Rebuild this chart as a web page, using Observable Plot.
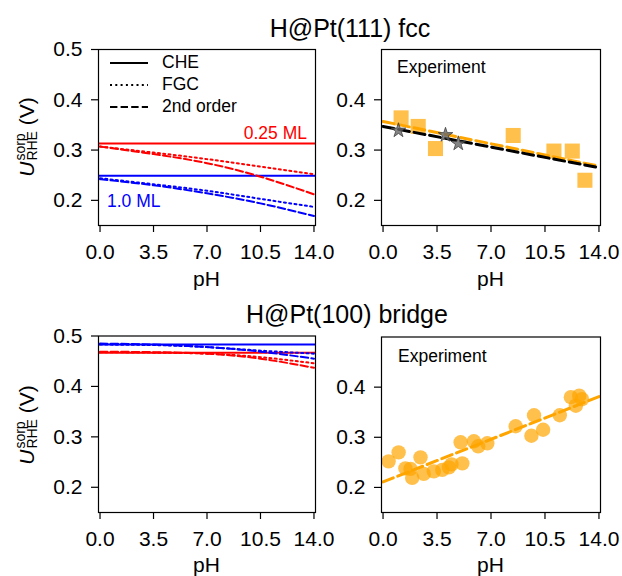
<!DOCTYPE html>
<html><head><meta charset="utf-8">
<script src="https://cdn.jsdelivr.net/npm/d3@7"></script>
<script src="https://cdn.jsdelivr.net/npm/@observablehq/plot@0.6"></script>
<style>
body{margin:0;background:#fff;}
#fig{position:relative;width:622px;height:576px;font-family:"Liberation Sans",Arial,sans-serif;color:#000;overflow:hidden}
.abs{position:absolute;line-height:1;white-space:nowrap}
.title{font-size:25px;transform:translateX(-50%)}
.xlab{font-size:21px;transform:translateX(-50%)}
.ylab{font-size:21px;transform:translate(-50%,-50%) rotate(-90deg)}
.ss{display:inline-flex;flex-direction:column;font-size:14px;line-height:12px;vertical-align:9px;margin-left:1px}
.ann{font-size:17.5px}
.leg{font-size:17.5px}
.panel{position:absolute}
</style></head>
<body><div id="fig"></div>
<script>
// ---------- data ----------
const xTicks = [0, 3.5, 7, 10.5, 14];
const yTicksLeft = [0.2, 0.3, 0.4, 0.5];
const yTicksRight = [0.2, 0.3, 0.4];
const phGrid = [0, 3.5, 7, 10.5, 14];

// H@Pt(111) fcc, theory
const fccChe025 = [0.313];
const fccChe100 = [0.249];
const fccFgc025 = [0.307, 0.295, 0.282, 0.267, 0.252];
const fcc2nd025 = [0.307, 0.292, 0.274, 0.247, 0.212];
const fccFgc100 = [0.244, 0.232, 0.219, 0.203, 0.187];
const fcc2nd100 = [0.242, 0.230, 0.214, 0.194, 0.169];

// H@Pt(100) bridge, theory
const brChe025 = [0.467];
const brChe100 = [0.483];
const brFgc025 = [0.468, 0.467, 0.465, 0.458, 0.446];
const br2nd025 = [0.469, 0.468, 0.465, 0.455, 0.437];
const brFgc100 = [0.483, 0.482, 0.478, 0.471, 0.465];
const br2nd100 = [0.485, 0.483, 0.478, 0.469, 0.455];

// H@Pt(111) experiment
const fccSqPH = [1.17, 2.28, 3.4, 8.44, 11.08, 12.27, 13.09];
const fccSqU  = [0.364, 0.347, 0.303, 0.329, 0.298, 0.298, 0.240];
const fccStarPH = [1.0, 4.05, 4.88];
const fccStarU  = [0.339, 0.330, 0.313];
const fitPH = [0, 14];
const fccFitOrange = [0.357, 0.268];
const fccFitBlack  = [0.347, 0.265];

// H@Pt(100) experiment
const brCircPH = [0.36, 1.01, 1.45, 1.78, 1.89, 2.43, 2.64, 3.29, 3.84, 4.27, 4.44, 5.14, 5.03, 5.89, 6.17, 6.76, 8.6, 9.79, 9.62, 10.38, 11.46, 12.18, 12.5, 12.72, 12.9];
const brCircU  = [0.252, 0.270, 0.238, 0.237, 0.219, 0.260, 0.227, 0.232, 0.235, 0.240, 0.246, 0.248, 0.290, 0.292, 0.282, 0.288, 0.322, 0.344, 0.303, 0.315, 0.344, 0.380, 0.363, 0.383, 0.376];
const brFitOrange = [0.211, 0.381];

// ---------- helpers ----------
const RED = "#ff0000", BLUE = "#0000ff", ORANGE = "#ffa500";
const DASH = "7.4,3.2", DOT = "2,3.3", DASH3 = "11,4.8";
const rows = (xs, ys) => xs.map((x, i) => ({x, y: ys[i]}));
const fig = document.getElementById("fig");

function panel({left, top, width, height, ml, mr, mt, mb, yticks, marks}) {
  const p = Plot.plot({
    width, height, marginLeft: ml, marginRight: mr, marginTop: mt, marginBottom: mb,
    style: {fontSize: "21px", fontFamily: "Liberation Sans, Arial, sans-serif", background: "transparent", overflow: "visible", color: "black"},
    x: {domain: [-0.1, 14.1]},
    y: {domain: [0.15, 0.5]},
    marks: [
      ...marks,
      Plot.frame({stroke: "black", strokeWidth: 1.2}),
      Plot.axisX({ticks: xTicks, tickFormat: d3.format(".1f"), tickSize: 7, tickPadding: 12, label: null, strokeWidth: 1.2}),
      Plot.axisY({ticks: yticks, tickFormat: d3.format(".1f"), tickSize: 7, tickPadding: 9, label: null, strokeWidth: 1.2})
    ]
  });
  const d = document.createElement("div");
  d.className = "panel";
  d.style.left = left + "px"; d.style.top = top + "px";
  d.appendChild(p);
  fig.appendChild(d);
}
function txt(cls, html, left, top, extra) {
  const d = document.createElement("div");
  d.className = "abs " + cls;
  d.innerHTML = html;
  d.style.left = left + "px"; d.style.top = top + "px";
  if (extra) Object.assign(d.style, extra);
  fig.appendChild(d);
}
const theoryLines = (fgc025, s025, fgc100, s100, che025, che100) => [
  Plot.ruleY(che025, {stroke: RED, strokeWidth: 2}),
  Plot.ruleY(che100, {stroke: BLUE, strokeWidth: 2}),
  Plot.line(rows(phGrid, fgc025), {x: "x", y: "y", stroke: RED, strokeWidth: 2, strokeDasharray: DOT, curve: "natural"}),
  Plot.line(rows(phGrid, s025), {x: "x", y: "y", stroke: RED, strokeWidth: 2, strokeDasharray: DASH, curve: "natural"}),
  Plot.line(rows(phGrid, fgc100), {x: "x", y: "y", stroke: BLUE, strokeWidth: 2, strokeDasharray: DOT, curve: "natural"}),
  Plot.line(rows(phGrid, s100), {x: "x", y: "y", stroke: BLUE, strokeWidth: 2, strokeDasharray: DASH, curve: "natural"})
];

// ---------- panels ----------
panel({left: 0, top: 40, width: 320, height: 230, ml: 98, mr: 5, mt: 9, mb: 45, yticks: yTicksLeft,
  marks: theoryLines(fccFgc025, fcc2nd025, fccFgc100, fcc2nd100, fccChe025, fccChe100)});

panel({left: 300, top: 40, width: 310, height: 230, ml: 81, mr: 10, mt: 9, mb: 45, yticks: yTicksRight,
  marks: [
    Plot.dot(rows(fccSqPH, fccSqU), {x: "x", y: "y", symbol: "square", r: 8.5, fill: ORANGE, fillOpacity: 0.7, stroke: "none"}),
    Plot.line(rows(fitPH, fccFitOrange), {x: "x", y: "y", stroke: ORANGE, strokeWidth: 3, strokeDasharray: DASH3}),
    Plot.line(rows(fitPH, fccFitBlack), {x: "x", y: "y", stroke: "black", strokeWidth: 3, strokeDasharray: DASH3}),
    Plot.dot(rows(fccStarPH, fccStarU), {x: "x", y: "y", symbol: "star", r: 4.6, fill: "#666", fillOpacity: 0.8, stroke: "#333", strokeWidth: 0.7})
  ]});

panel({left: 0, top: 326, width: 320, height: 230, ml: 98, mr: 5, mt: 9.5, mb: 44, yticks: yTicksLeft,
  marks: theoryLines(brFgc025, br2nd025, brFgc100, br2nd100, brChe025, brChe100)});

panel({left: 300, top: 326, width: 310, height: 230, ml: 81, mr: 10, mt: 10.5, mb: 44, yticks: yTicksRight,
  marks: [
    Plot.dot(rows(brCircPH, brCircU), {x: "x", y: "y", r: 7.2, fill: ORANGE, fillOpacity: 0.7, stroke: "none"}),
    Plot.line(rows(fitPH, brFitOrange), {x: "x", y: "y", stroke: ORANGE, strokeWidth: 3, strokeDasharray: DASH3})
  ]});

// ---------- text ----------
txt("title", "H@Pt(111) fcc", 350, 16);
txt("title", "H@Pt(100) bridge", 347, 302);
txt("xlab", "pH", 206.5, 268);
txt("xlab", "pH", 490.5, 268);
txt("xlab", "pH", 206.5, 554);
txt("xlab", "pH", 490.5, 554);
const ylabHTML = '<i>U</i><span class="ss"><span>sorp</span><span>RHE</span></span> (V)';
txt("ylab", ylabHTML, 26, 137);
txt("ylab", ylabHTML, 26, 425);
txt("ann", "0.25 ML", 307, 125, {color: RED, transform: "translateX(-100%)"});
txt("ann", "1.0 ML", 107, 193, {color: BLUE});
txt("ann", "Experiment", 397, 59);
txt("ann", "Experiment", 398, 348);

// legend
const legendItems = [["CHE", "none"], ["FGC", DOT], ["2nd order", DASH]];
legendItems.forEach(([label, dash], i) => {
  const y = 63 + i * 22;
  const s = document.createElementNS("http://www.w3.org/2000/svg", "svg");
  s.setAttribute("width", 40); s.setAttribute("height", 6);
  s.style.position = "absolute"; s.style.left = "109px"; s.style.top = (y - 3) + "px";
  const l = document.createElementNS("http://www.w3.org/2000/svg", "line");
  l.setAttribute("x1", 1); l.setAttribute("x2", 39); l.setAttribute("y1", 3); l.setAttribute("y2", 3);
  l.setAttribute("stroke", "black"); l.setAttribute("stroke-width", 2);
  if (dash !== "none") l.setAttribute("stroke-dasharray", dash);
  s.appendChild(l);
  fig.appendChild(s);
  txt("leg", label, 162, y - 9);
});
</script>
</body></html>
